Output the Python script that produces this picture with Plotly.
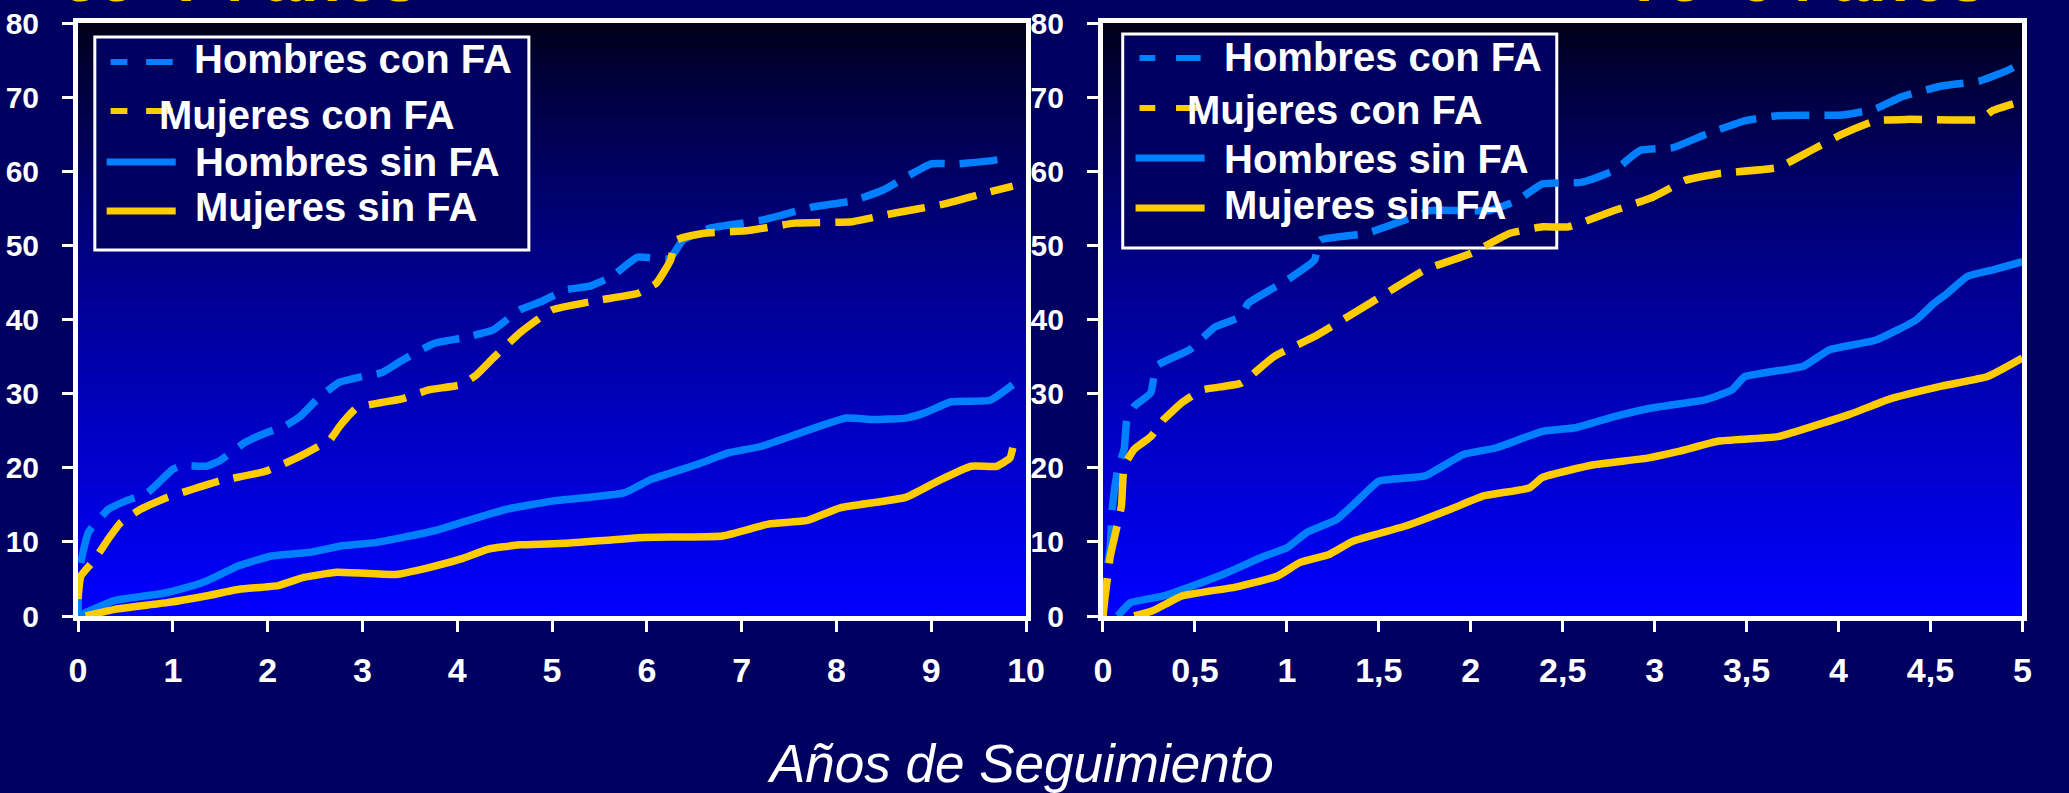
import plotly.graph_objects as go

# ---------------- data ----------------
series_names = ["Hombres con FA", "Mujeres con FA", "Hombres sin FA", "Mujeres sin FA"]
panel_titles = ["55–74 años", "75–94 años"]
x_title = "Años de Seguimiento"

left_xtick_vals = [0, 1, 2, 3, 4, 5, 6, 7, 8, 9, 10]
left_xtick_text = ["0", "1", "2", "3", "4", "5", "6", "7", "8", "9", "10"]
right_xtick_vals = [0, 0.5, 1, 1.5, 2, 2.5, 3, 3.5, 4, 4.5, 5]
right_xtick_text = ["0", "0,5", "1", "1,5", "2", "2,5", "3", "3,5", "4", "4,5", "5"]
ytick_vals = [0, 10, 20, 30, 40, 50, 60, 70, 80]

# Left panel (55-74 años), follow-up 0-10 years
l_hcfa_t = [0, 0.006, 0.05, 0.11, 0.32, 0.5, 0.73, 1.0, 1.1, 1.35, 1.49, 1.76, 2.0, 2.18, 2.35, 2.52,
            2.75, 3.0, 3.2, 3.42, 3.76, 4.05, 4.38, 4.66, 4.9, 5.14, 5.4, 5.63, 5.9, 6.24, 6.38, 6.66,
            7.21, 7.76, 8.17, 8.5, 8.73, 9.0, 9.28, 9.62, 9.85]
l_hcfa_v = [0, 5.4, 8.5, 11.3, 14.4, 15.5, 16.6, 19.8, 20.3, 20.2, 20.9, 23.4, 24.8, 25.6, 27.0, 29.2,
            31.5, 32.3, 32.8, 34.5, 36.8, 37.5, 38.6, 41.3, 42.5, 44.0, 44.5, 45.8, 48.4, 48.2, 50.7, 52.3,
            53.4, 55.2, 56.0, 57.5, 59.2, 61.0, 61.0, 61.4, 61.8]

l_mcfa_t = [0, 0.03, 0.18, 0.32, 0.45, 0.66, 0.94, 1.21, 1.49, 1.97, 2.2, 2.38, 2.55, 2.66, 2.7, 2.76,
            2.94, 3.2, 3.42, 3.7, 4.04, 4.2, 4.38, 4.66, 5.0, 5.49, 5.9, 6.1, 6.25, 6.31, 6.59, 7.07,
            7.56, 8.17, 8.59, 9.14, 9.55, 9.86]
l_mcfa_v = [2.3, 5.4, 7.7, 10.4, 12.6, 14.4, 16.0, 17.1, 18.2, 19.5, 20.7, 21.8, 23.0, 23.8, 24.5, 25.6,
            28.1, 28.8, 29.3, 30.5, 31.2, 32.5, 34.8, 38.2, 41.3, 42.6, 43.5, 44.9, 48.0, 50.7, 51.6, 52.0,
            53.0, 53.2, 54.3, 55.6, 57.0, 58.0]

l_hsfa_t = [0, 0.39, 0.87, 1.07, 1.35, 1.7, 2.04, 2.45, 2.8, 3.14, 3.76, 4.04, 4.52, 5.0, 5.76, 6.04,
            6.52, 6.86, 7.21, 8.1, 8.38, 8.73, 8.93, 9.21, 9.62, 9.86]
l_hsfa_v = [0, 2.1, 3.0, 3.6, 4.7, 6.8, 8.1, 8.6, 9.5, 9.9, 11.5, 12.6, 14.4, 15.5, 16.6, 18.4,
            20.4, 22.0, 22.9, 26.7, 26.5, 26.7, 27.4, 28.9, 29.1, 31.2]

l_msfa_t = [0.08, 0.39, 0.94, 1.35, 1.7, 2.11, 2.38, 2.73, 3.35, 3.69, 4.04, 4.32, 4.66, 5.14, 5.97,
            6.8, 7.28, 7.69, 8.04, 8.73, 9.07, 9.42, 9.69, 9.83, 9.86]
l_msfa_v = [0, 0.9, 1.8, 2.7, 3.6, 4.1, 5.2, 5.9, 5.6, 6.5, 7.7, 9.0, 9.6, 9.8, 10.6,
            10.8, 12.4, 12.9, 14.6, 16.0, 18.2, 20.2, 20.2, 21.3, 22.7]

# Right panel (75-94 años), follow-up 0-5 years
r_hcfa_t = [0.0, 0.01, 0.04, 0.05, 0.08, 0.115, 0.13, 0.17, 0.26, 0.29, 0.47, 0.61, 0.75, 0.79, 1.0,
            1.15, 1.18, 1.43, 1.64, 1.78, 2.1, 2.25, 2.39, 2.6, 2.78, 2.92, 3.1, 3.28, 3.49, 3.67,
            4.02, 4.2, 4.34, 4.56, 4.77, 4.91, 4.95]
r_hcfa_v = [0, 4.1, 9.5, 14.4, 19.8, 22.5, 26.5, 28.3, 30.1, 33.7, 35.9, 39.0, 40.4, 42.2, 45.3,
            48.0, 50.7, 51.6, 53.4, 54.7, 54.7, 56.0, 58.3, 58.5, 60.1, 62.8, 63.2, 65.0, 66.8, 67.5,
            67.6, 68.4, 70.0, 71.5, 72.2, 73.5, 74.0]

r_mcfa_t = [0.0, 0.01, 0.04, 0.1, 0.115, 0.17, 0.26, 0.33, 0.43, 0.54, 0.75, 0.93, 1.15, 1.36, 1.57,
            1.75, 2.0, 2.21, 2.39, 2.53, 2.78, 2.99, 3.17, 3.35, 3.67, 3.85, 4.02, 4.2, 4.38, 4.77,
            4.84, 4.95]
r_mcfa_v = [0, 2.3, 8.1, 14.8, 20.2, 22.5, 24.2, 26.5, 28.8, 30.5, 31.4, 35.0, 37.7, 40.8, 44.0,
            46.7, 48.9, 51.6, 52.5, 52.5, 54.7, 56.5, 58.8, 59.7, 60.5, 62.8, 65.0, 66.8, 67.0, 67.0,
            68.2, 69.1]

r_hsfa_t = [0.08, 0.15, 0.33, 0.47, 0.68, 0.86, 1.0, 1.11, 1.27, 1.39, 1.5, 1.75, 1.96, 2.14, 2.39,
            2.57, 2.78, 2.99, 3.28, 3.42, 3.49, 3.81, 3.95, 4.2, 4.42, 4.52, 4.59, 4.7, 4.84, 5.0]
r_hsfa_v = [0, 1.8, 2.7, 3.9, 5.9, 7.9, 9.2, 11.3, 13.0, 15.7, 18.2, 18.9, 21.8, 22.7, 24.9,
            25.4, 26.9, 28.1, 29.2, 30.5, 32.3, 33.7, 35.9, 37.2, 39.9, 42.2, 43.5, 45.8, 46.7, 47.8]

r_msfa_t = [0.17, 0.27, 0.43, 0.72, 0.95, 1.07, 1.23, 1.36, 1.64, 1.89, 2.07, 2.32, 2.39, 2.67, 2.96,
            3.13, 3.35, 3.67, 4.06, 4.27, 4.56, 4.81, 5.0]
r_msfa_v = [0, 0.7, 2.7, 3.9, 5.4, 7.2, 8.3, 10.1, 12.1, 14.4, 16.2, 17.3, 18.7, 20.4, 21.3,
            22.2, 23.6, 24.2, 27.2, 29.2, 31.0, 32.3, 34.8]

# ---------------- styling ----------------
W, H = 2069, 793
M_T, M_B = 23, 177
PLOT_TOP, PLOT_BOT = M_T, H - M_B
PH = PLOT_BOT - PLOT_TOP
BLUE = "#0080FF"
YELLOW = "#FFCC00"
PAGE_BG = "#000060"
FONT = "Liberation Sans, Arial, sans-serif"
LW = 7.5
DASH = "38px,15px"

def px(xp):
    return xp / W

def py(yp):
    return (PLOT_BOT - yp) / PH

fig = go.Figure()

styles = [(BLUE, DASH), (YELLOW, DASH), (BLUE, "solid"), (YELLOW, "solid")]
left_data = [(l_hcfa_t, l_hcfa_v), (l_mcfa_t, l_mcfa_v), (l_hsfa_t, l_hsfa_v), (l_msfa_t, l_msfa_v)]
right_data = [(r_hcfa_t, r_hcfa_v), (r_mcfa_t, r_mcfa_v), (r_hsfa_t, r_hsfa_v), (r_msfa_t, r_msfa_v)]

for (xs, ys), (col, dash), name in zip(left_data, styles, series_names):
    fig.add_trace(go.Scatter(x=xs, y=ys, mode="lines", name=name, showlegend=False,
                             line=dict(color=col, width=LW, dash=dash, shape="spline", smoothing=0.4),
                             xaxis="x", yaxis="y"))
for (xs, ys), (col, dash), name in zip(right_data, styles, series_names):
    fig.add_trace(go.Scatter(x=xs, y=ys, mode="lines", name=name, showlegend=False,
                             line=dict(color=col, width=LW, dash=dash, shape="spline", smoothing=0.4),
                             xaxis="x2", yaxis="y2"))

shapes = []
# gradient backgrounds
NB = 90
def grad_color(f):  # f: 0 at top, 1 at bottom
    b = int(round(0x16 + (f ** 0.8) * (0xFF - 0x16)))
    return "rgb(0,0,%d)" % b

for xr, yr in (("x domain", "y domain"), ("x2 domain", "y2 domain")):
    for i in range(NB):
        y1 = 1 - i / NB
        y0 = 1 - (i + 1) / NB - 0.002
        shapes.append(dict(type="rect", xref=xr, yref=yr, x0=0, x1=1, y0=max(y0, 0), y1=y1,
                           fillcolor=grad_color((i + 0.5) / NB), line=dict(width=0), layer="below"))

annotations = []

def add_legend(box, rows):
    x0, x1, y0, y1 = box
    shapes.append(dict(type="rect", xref="paper", yref="paper", x0=px(x0), x1=px(x1), y0=py(y1), y1=py(y0),
                       fillcolor=PAGE_BG, line=dict(color="white", width=3), layer="below"))
    for (txt, tx, ty, col, kind, segs, ly) in rows:
        for (a, b) in segs:
            shapes.append(dict(type="line", xref="paper", yref="paper", x0=px(a), x1=px(b), y0=py(ly), y1=py(ly),
                               line=dict(color=col, width=6 if kind == "dash" else 7), layer="below"))
        annotations.append(dict(text=txt, xref="paper", yref="paper", x=px(tx), y=py(ty), xanchor="left",
                                yanchor="middle", showarrow=False,
                                font=dict(family=FONT, size=40, color="white", weight="bold")))

add_legend((87, 527, 37, 250), [
    (series_names[0], 186, 59, BLUE, "dash", [(103, 120), (139, 166)], 62),
    (series_names[1], 150, 115, YELLOW, "dash", [(103, 120), (139, 166)], 111),
    (series_names[2], 187, 162, BLUE, "solid", [(99, 169)], 162),
    (series_names[3], 187, 207, YELLOW, "solid", [(99, 169)], 211),
])
add_legend((1129, 1569, 34, 248), [
    (series_names[0], 1230, 57, BLUE, "dash", [(1146, 1162), (1183, 1208)], 58),
    (series_names[1], 1192, 110, YELLOW, "dash", [(1146, 1162), (1183, 1208)], 108),
    (series_names[2], 1230, 159, BLUE, "solid", [(1142, 1212)], 158),
    (series_names[3], 1230, 205, YELLOW, "solid", [(1142, 1212)], 208),
])

# panel titles (cut off at the top of the page)
for txt, xl in ((panel_titles[0], 52), (panel_titles[1], 1641)):
    annotations.append(dict(text=txt, xref="paper", yref="paper", x=px(xl), y=py(17), xanchor="left",
                            yanchor="bottom", showarrow=False,
                            font=dict(family=FONT, size=66, color=YELLOW, weight="bold")))

# x-axis title
annotations.append(dict(text="<i>" + x_title + "</i>", xref="paper", yref="paper", x=px(1025), y=py(763),
                        xanchor="center", yanchor="middle", showarrow=False,
                        font=dict(family=FONT, size=53, color="white")))

axis_common = dict(showline=True, linecolor="white", linewidth=5, mirror=True, showgrid=False,
                   zeroline=False, ticks="outside", ticklen=11, tickwidth=3, tickcolor="white")

fig.update_layout(
    width=W, height=H,
    margin=dict(l=0, r=0, t=M_T, b=M_B, pad=0),
    paper_bgcolor=PAGE_BG, plot_bgcolor="#0000CC",
    showlegend=False,
    shapes=shapes, annotations=annotations,
    xaxis=dict(domain=[px(70), px(1031)], range=[0, 10], tickvals=left_xtick_vals, ticktext=left_xtick_text,
               tickfont=dict(family=FONT, size=34, color="white", weight="bold"), ticklabelstandoff=9,
               anchor="y", **axis_common),
    yaxis=dict(domain=[0, 1], range=[0, 80], tickvals=ytick_vals,
               tickfont=dict(family=FONT, size=30, color="white", weight="bold"), ticklabelstandoff=17,
               anchor="x", **axis_common),
    xaxis2=dict(domain=[px(1109), px(2041)], range=[0, 5], tickvals=right_xtick_vals, ticktext=right_xtick_text,
                tickfont=dict(family=FONT, size=34, color="white", weight="bold"), ticklabelstandoff=9,
                anchor="y2", **axis_common),
    yaxis2=dict(domain=[0, 1], range=[0, 80], tickvals=ytick_vals,
                tickfont=dict(family=FONT, size=30, color="white", weight="bold"), ticklabelstandoff=17,
                anchor="x2", **axis_common),
)

fig.write_html("out.html",
               config={"displayModeBar": False},
               post_script="document.body.style.margin='0';document.body.style.padding='0';"
                           "document.body.style.overflow='hidden';"
                           "document.body.style.background='" + PAGE_BG + "';")
